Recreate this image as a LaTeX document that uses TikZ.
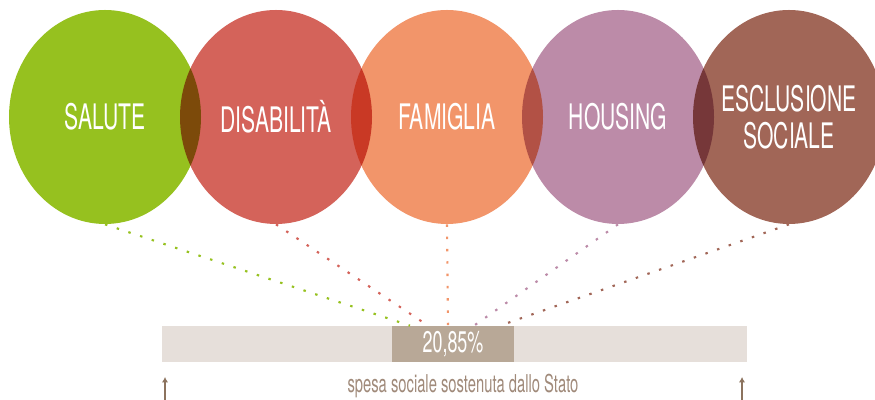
\documentclass[tikz,border=0pt]{standalone}
\usepackage{fontspec}
\usetikzlibrary{shapes.geometric,calc,arrows.meta}

\newfontfamily\condensed[FakeStretch=0.6]{TeX Gyre Heros}

\definecolor{salute}{HTML}{96C11F}
\definecolor{disab}{HTML}{D4635A}
\definecolor{famiglia}{HTML}{F2956A}
\definecolor{housing}{HTML}{BC8BA8}
\definecolor{esclus}{HTML}{A16657}
\definecolor{barlight}{HTML}{E6DFDA}
\definecolor{bardark}{HTML}{B8A897}
\definecolor{tickbrown}{HTML}{8C735E}
\definecolor{notegray}{HTML}{A08A7A}

\tikzstyle{bubble} = [ellipse, minimum width=3.84cm, minimum height=4.28cm, inner sep=0pt]
\tikzstyle{caption} = [text=white, align=center, font=\condensed\fontsize{20}{21}\selectfont]
\tikzstyle{barpart} = [minimum height=0.72cm, inner sep=0pt]
\tikzstyle{link} = [line width=1.2pt, dash pattern=on 1.4pt off 5.6pt]
\tikzstyle{tick} = [draw=tickbrown, line width=1.1pt, -{Latex[length=3pt,width=3.5pt]}]

\begin{document}
\begin{tikzpicture}
        \useasboundingbox (0,0) rectangle (17.5,8);
        % five areas, darker where two of them overlap
        \begin{scope}[blend group=multiply]
            \foreach \i/\col in {1/salute,2/disab,3/famiglia,4/housing,5/esclus}
                \node (c\i) at ({2.1+3.42*(\i-1)},5.66) [bubble, fill=\col] {};
        \end{scope}
        \node (t1) at (c1) [caption] {SALUTE};
        \node (t2) at (c2) [caption] {DISABILIT\`A};
        \node (t3) at (c3) [caption] {FAMIGLIA};
        \node (t4) at (c4) [caption] {HOUSING};
        \node (t5) at (c5) [caption] {ESCLUSIONE\\SOCIALE};

        % share bar
        \node (bar) at (9.09,1.12) [barpart, fill=barlight, minimum width=11.7cm] {};
        \node (share) at (9.06,1.12) [barpart, fill=bardark, minimum width=2.44cm,
            text=white, font=\condensed\fontsize{17}{18}\selectfont] {20,85\%};

        % dotted links down to the bar
        \coordinate (e1) at ($(bar.north)+(-0.89,0)$);
        \coordinate (e2) at ($(bar.north)+(-0.53,0)$);
        \coordinate (e3) at ($(bar.north)+(-0.13,0)$);
        \coordinate (e4) at ($(bar.north)+(0.39,0)$);
        \coordinate (e5) at ($(bar.north)+(0.91,0)$);
        \foreach \i/\col in {1/salute,2/disab,3/famiglia,4/housing,5/esclus}
            \draw[link, draw=\col] (c\i.south) -- (e\i);

        % ends of the scale
        \coordinate (l0) at (3.3,0);
        \coordinate (l1) at (3.3,0.46);
        \coordinate (r0) at (14.84,0);
        \coordinate (r1) at (14.84,0.46);
        \draw[tick] (l0) -- (l1);
        \draw[tick] (r0) -- (r1);
        \node (note) at (9.26,0.28) [text=notegray, font=\condensed\fontsize{14}{16}\selectfont]
            {spesa sociale sostenuta dallo Stato};
\end{tikzpicture}
\end{document}
